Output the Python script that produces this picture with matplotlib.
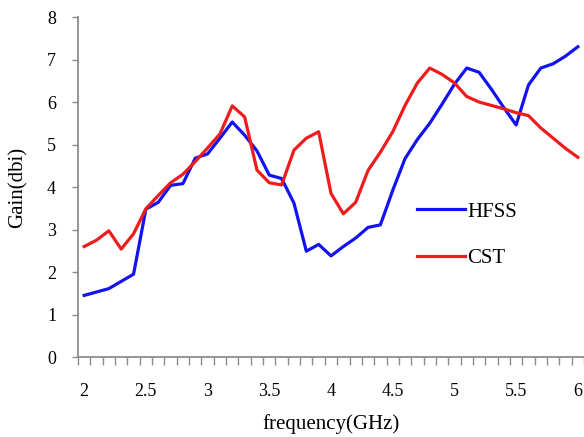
import numpy as np
import matplotlib.pyplot as plt
from matplotlib.ticker import MultipleLocator

plt.rcParams['font.family'] = ['Liberation Serif', 'DejaVu Serif']

# frequency points, 0.1 GHz steps
freq = np.round(np.arange(2.0, 6.01, 0.1), 1)

hfss = [1.45, 1.53, 1.61, 1.78, 1.95, 3.48, 3.64, 4.04, 4.08, 4.68, 4.78,
        5.15, 5.53, 5.22, 4.85, 4.28, 4.20, 3.62, 2.49, 2.65, 2.38, 2.60,
        2.80, 3.05, 3.11, 3.92, 4.67, 5.12, 5.50, 5.95, 6.42, 6.80, 6.70,
        6.30, 5.87, 5.46, 6.40, 6.80, 6.90, 7.08, 7.30]

cst = [2.60, 2.75, 2.97, 2.54, 2.90, 3.49, 3.80, 4.10, 4.30, 4.60, 4.92,
       5.25, 5.91, 5.65, 4.40, 4.10, 4.05, 4.87, 5.15, 5.30, 3.85, 3.37,
       3.64, 4.39, 4.82, 5.30, 5.92, 6.45, 6.80, 6.65, 6.45, 6.13, 6.00,
       5.92, 5.84, 5.75, 5.68, 5.39, 5.15, 4.91, 4.70]

xticks = [2, 2.5, 3, 3.5, 4, 4.5, 5, 5.5, 6]
xticklabels = ['2', '2.5', '3', '3.5', '4', '4.5', '5', '5.5', '6']

fig = plt.figure(figsize=(5.84, 4.37), dpi=100)
ax = fig.add_axes([0.1336, 0.183, 0.8664, 0.778])

ax.plot(freq, hfss, color='#1212f2', lw=2.3, label='HFSS')
ax.plot(freq, cst, color='#ee1c1c', lw=2.3, label='CST')

ax.set_xlim(1.95, 6.05)
ax.set_ylim(0, 8)
ax.set_yticks(range(0, 9))
ax.set_xticks(xticks)
ax.set_xticklabels(xticklabels)
ax.xaxis.set_minor_locator(MultipleLocator(0.1, offset=0.05))

for s in ['top', 'right']:
    ax.spines[s].set_visible(False)
for s in ['left', 'bottom']:
    ax.spines[s].set_color('#8c8c8c')
    ax.spines[s].set_linewidth(1.3)

ax.tick_params(axis='x', which='major', length=0, pad=19, labelsize=13)
ax.tick_params(axis='x', which='minor', length=5.5, direction='out',
               color='#8c8c8c', width=1)
ax.tick_params(axis='y', length=4.3, direction='out', color='#8c8c8c',
               width=1, pad=11.5, labelsize=13)

ax.set_xlabel('frequency(GHz)', fontsize=15, labelpad=10)
ax.set_ylabel('Gain(dbi)', fontsize=15, labelpad=14)

ax.legend(loc='center left', bbox_to_anchor=(0.714, 0.462),
          bbox_transform=fig.transFigure, frameon=False, fontsize=15,
          handlelength=2.3, handletextpad=0.1, labelspacing=1.3,
          borderpad=0, borderaxespad=0)

fig.savefig('out.png', dpi=100)
